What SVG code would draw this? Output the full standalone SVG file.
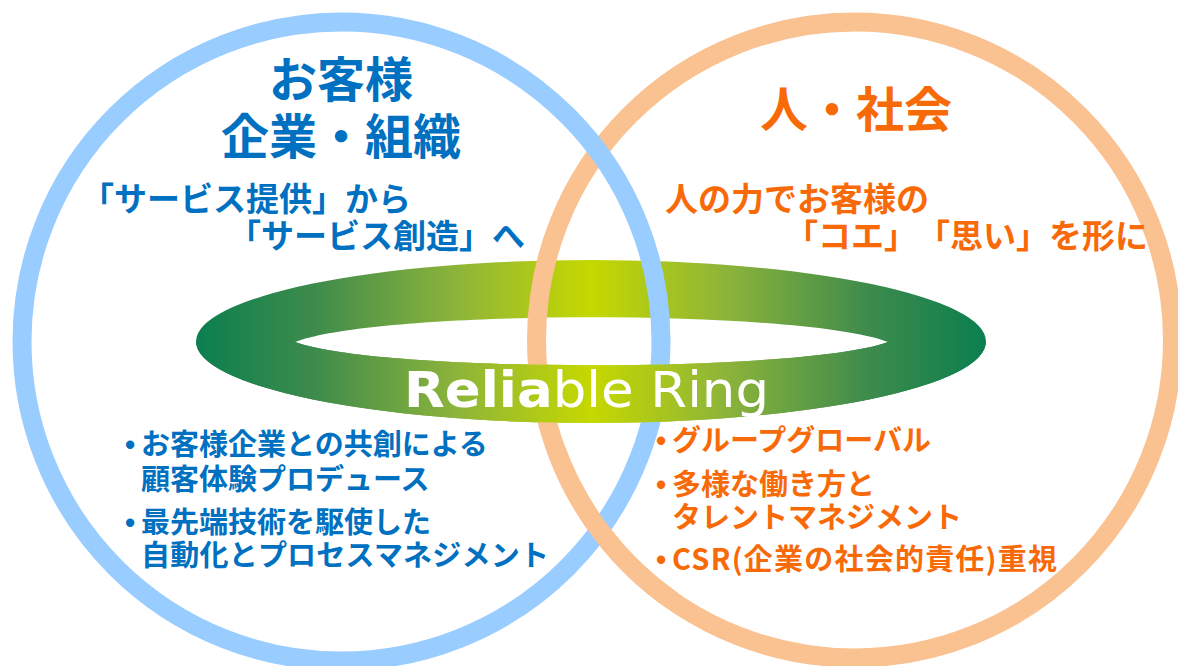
<svg xmlns="http://www.w3.org/2000/svg" width="1178" height="666" viewBox="0 0 1178 666">
  <style>
    .jp { font-family: "Noto Sans CJK JP", "Noto Sans CJK SC", sans-serif; font-weight: bold; text-spacing-trim: space-all; }
    .blue { fill: #0070C0; }
    .orange { fill: #F86A08; }
    .title { font-size: 48px; }
    .sub { font-size: 33px; }
    .item { font-size: 29px; }
    .dot { font-family: "Liberation Sans", sans-serif; font-weight: bold; }
    .bluecircle { fill: none; stroke: #99CCFF; stroke-width: 19; }
    .orangecircle { fill: none; stroke: #FAC191; stroke-width: 19; }
    .ringtext { font-family: "DejaVu Sans", "Liberation Sans", sans-serif; font-size: 50px; fill: #FFFFFF; }
  </style>
  <defs>
    <linearGradient id="ringGrad" gradientUnits="userSpaceOnUse" x1="196" y1="0" x2="986" y2="0">
      <stop offset="0" stop-color="#0B7F4F"/>
      <stop offset="0.15" stop-color="#3E8B4C"/>
      <stop offset="0.33" stop-color="#8DB43A"/>
      <stop offset="0.5" stop-color="#C6D800"/>
      <stop offset="0.67" stop-color="#8DB43A"/>
      <stop offset="0.85" stop-color="#3E8B4C"/>
      <stop offset="1" stop-color="#0B7F4F"/>
    </linearGradient>
  </defs>
  <rect x="0" y="0" width="1178" height="666" fill="#FFFFFF"/>

  <!-- back half of the ring (behind the circles) -->
  <g id="ring-back">
    <path fill="url(#ringGrad)" fill-rule="evenodd"
      d="M196,341.5 A395,81.5 0 1 1 986,341.5 A395,81.5 0 1 1 196,341.5 Z
         M295,342 C380,309 803,309 888,342 C803,373 380,373 295,342 Z"/>
  </g>

  <g id="circle-society">
    <circle class="orangecircle" cx="854.5" cy="340" r="318"/>
  </g>
  <g id="circle-customer">
    <circle class="bluecircle" cx="341.5" cy="341.5" r="319.5"/>
  </g>
  <!-- orange passes over blue at the lower crossing -->
  <g id="circle-society-overlap">
    <path class="orangecircle" d="M672.1,600.5 A318,318 0 0 1 555.7,448.8"/>
  </g>

  <!-- front half of the ring (in front of the circles) -->
  <g id="ring-front">
    <path fill="url(#ringGrad)"
      d="M196,341.5 A395,81.5 0 0 0 986,341.5 L888,342 C803,373 380,373 295,342 Z"/>
    <text class="ringtext" x="404" y="407" textLength="365" lengthAdjust="spacingAndGlyphs"><tspan font-weight="bold">Relia</tspan>ble Ring</text>
  </g>

  <g id="customer">
    <text class="jp blue title" x="341" y="97" text-anchor="middle">お客様</text>
    <text class="jp blue title" x="341" y="154" text-anchor="middle">企業・組織</text>
    <text class="jp blue sub" x="81" y="211">「サービス提供」から</text>
    <text class="jp blue sub" x="228" y="248">「サービス創造」へ</text>
    <text class="jp blue item" x="125" y="455"><tspan class="dot">•</tspan><tspan x="141">お客様企業との共創による</tspan></text>
    <text class="jp blue item" x="141" y="490">顧客体験プロデュース</text>
    <text class="jp blue item" x="125" y="533"><tspan class="dot">•</tspan><tspan x="141">最先端技術を駆使した</tspan></text>
    <text class="jp blue item" x="141" y="566" textLength="408" lengthAdjust="spacing">自動化とプロセスマネジメント</text>
  </g>

  <g id="society">
    <text class="jp orange title" x="856" y="127" text-anchor="middle">人・社会</text>
    <text class="jp orange sub" x="665" y="211">人の力でお客様の</text>
    <text class="jp orange sub" x="785" y="248">「コエ」「思い」を形に</text>
    <text class="jp orange item" x="656" y="451"><tspan class="dot">•</tspan><tspan x="672">グループグローバル</tspan></text>
    <text class="jp orange item" x="656" y="495"><tspan class="dot">•</tspan><tspan x="672">多様な働き方と</tspan></text>
    <text class="jp orange item" x="672" y="528">タレントマネジメント</text>
    <text class="jp orange item" x="656" y="570"><tspan class="dot">•</tspan><tspan x="672" textLength="385" lengthAdjust="spacing">CSR(企業の社会的責任)重視</tspan></text>
  </g>
</svg>
